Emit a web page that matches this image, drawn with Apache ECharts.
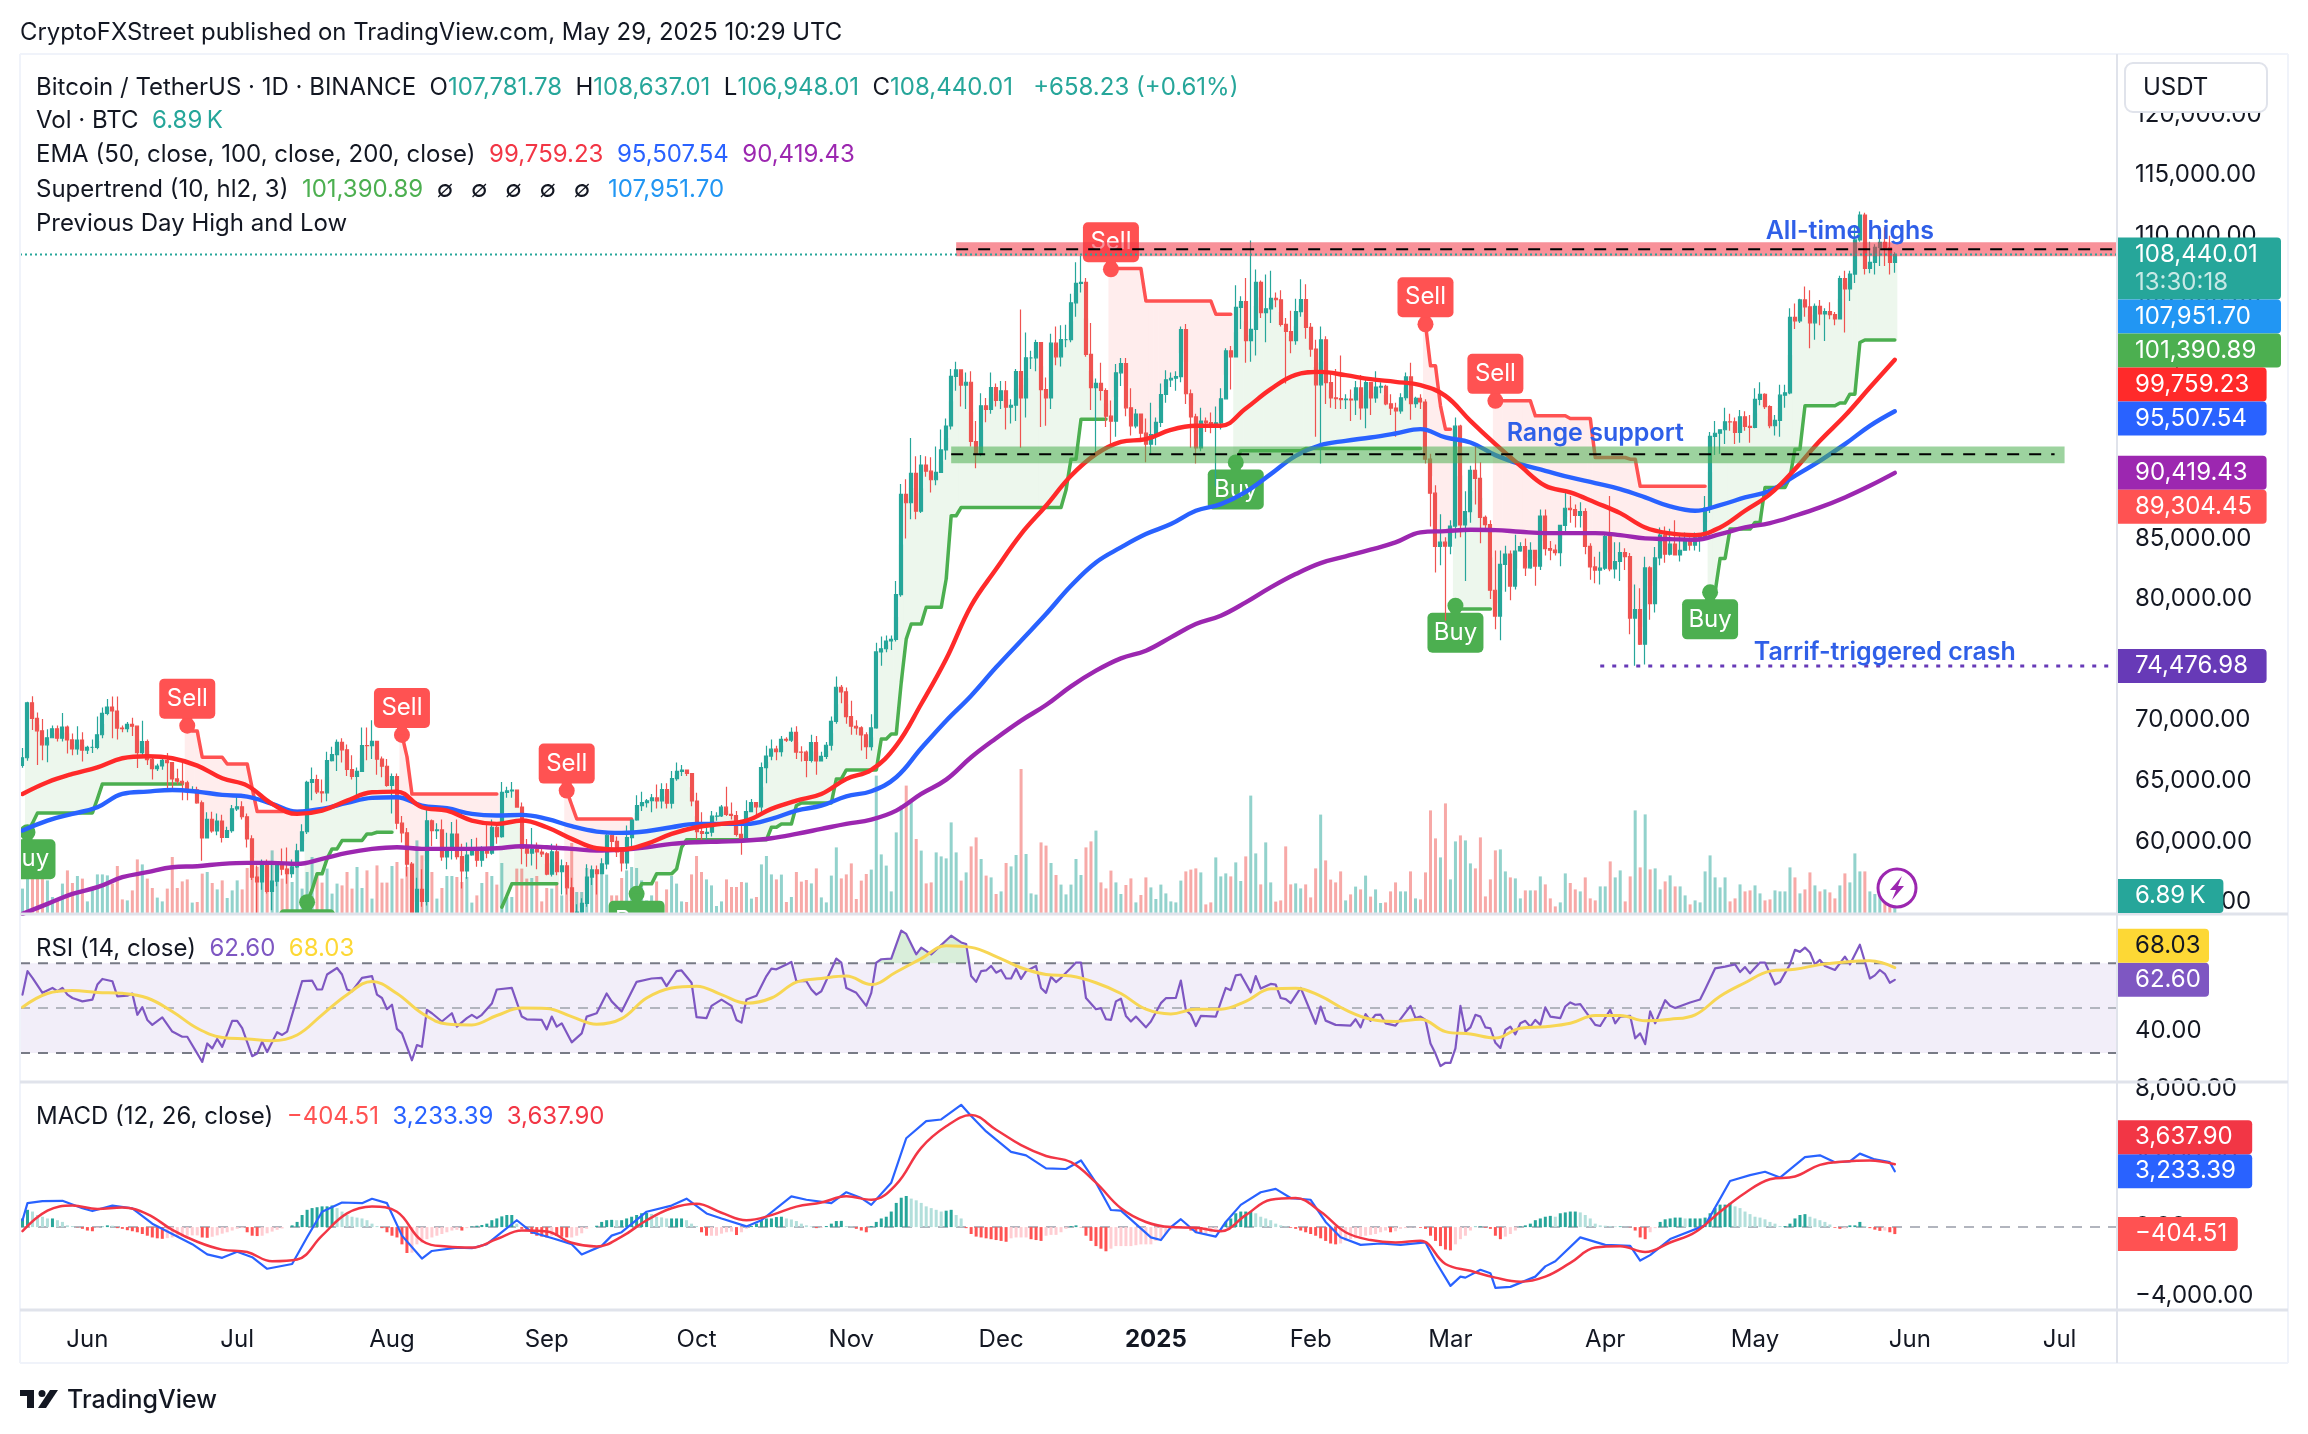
<!DOCTYPE html>
<html>
<head>
<meta charset="utf-8">
<title>BTCUSDT</title>
<script src="https://cdn.jsdelivr.net/npm/echarts@6/dist/echarts.min.js"></script>
<style>
html,body{margin:0;padding:0;background:#fff;}
#chart{width:2308px;height:1434px;}
</style>
</head>
<body>
<div id="chart"></div>
<script>
// daily candles, 19 May 2024 -> 29 May 2025
var firstDay = Date.UTC(2024, 4, 19);
var blankDays = 44; // empty days right of the last candle
var firstOpen = 66270;
var closes = [
66900,71440,70150,69120,67970,68550,69290,68510,69440,68370,67630,68360,67530,
67760,67760,68800,70570,71080,70760,69350,69310,69650,69510,67320,68240,66750,66010,66220,66680,66500,65150,64960,64830,64100,64250,63180,60280,61810,60860,61670,60320,60890,62680,
62850,62030,60200,57040,56640,58230,55860,56710,58050,57700,57340,57890,59210,60790,64870,65100,64090,63990,66660,67150,68170,67550,65930,65370,65780,67910,67900,68250,66780,66200,64620,
65350,61500,60700,58120,53990,56030,55030,61700,60880,60940,58710,59350,60600,58740,57560,58870,59490,58440,59490,59030,61160,60380,64040,64160,64220,62830,59420,59030,59360,59120,58970,
57300,59130,57490,57970,56160,53950,54160,54870,57050,57640,57340,58130,60500,60000,59130,58210,60310,61760,62950,63200,63350,63580,63340,64260,63150,65180,65770,65880,65600,63330,
60800,60650,60750,62080,62090,62820,62220,62130,60580,60270,62450,63200,62850,66080,67040,67610,67400,68420,68360,69000,67370,67360,66680,68160,66640,67010,67930,69910,72720,72340,70290,
69500,69370,68780,67810,69360,75640,75900,76540,76680,80370,88650,87950,90380,87250,91060,90560,89850,90460,92310,94290,98380,98920,97670,97900,93010,91970,95960,95650,97460,96410,
97190,95840,96000,98770,96600,99920,99920,101170,97290,96600,101130,100000,101420,101420,104460,106060,106140,100200,97460,97800,97220,95100,94690,98680,99430,95790,94300,95280,93700,92790,93580,
94590,96890,98100,98230,98360,102240,96950,95040,92480,94700,94570,94490,94540,96530,100500,99990,104080,104560,101330,102260,106140,103650,103960,104820,104710,102680,102090,101330,103730,104730,102430,
100640,97690,101400,97870,96610,96550,96470,96500,96440,97430,95780,97870,96610,97500,97570,96120,95770,95540,96620,98340,96130,96580,96270,91550,88740,84350,84700,84370,
86030,94270,86120,87220,90620,89970,86750,86150,80730,78600,82860,83720,81070,83970,84340,82580,84020,82720,86850,84170,84040,83830,86080,87500,87390,86900,87230,84350,82650,82390,82550,
85160,82490,83100,83840,83500,78430,79140,76270,82570,79630,83400,85290,83700,84540,83640,84030,84950,84460,85060,85170,87520,93440,93690,93980,94640,94630,93750,95050,94250,94170,
96490,96910,95890,94310,94750,96830,97030,103260,102970,104700,104120,102810,104170,103540,103740,103480,103130,106450,105600,106830,109650,111700,107290,107790,109030,109440,108990,107800,108440.01
];
var highs = [
67700,71520,71980,70630,70100,69250,69570,69560,70600,69560,68900,69500,69000,
67900,68400,70300,71050,71750,71950,71950,69560,69850,70200,69550,69950,68400,67000,66400,67000,67300,65700,66000,66500,65000,64550,64500,63370,62400,62450,62300,62200,61200,63000,
63800,63300,62300,60500,58000,58500,58500,58200,58300,59400,59500,58500,59800,61400,65000,66100,65500,65100,67400,67800,68400,68500,68000,67100,66100,69400,69400,70000,68000,67000,66800,
65600,65600,62100,61100,58300,57000,57700,62700,61800,61500,61800,60700,61600,61800,59800,59900,60200,60300,59600,61400,61800,61400,64900,64500,64900,63200,63200,60200,61100,59900,59400,
59100,59800,59800,58500,58300,57000,54800,55300,58100,58000,58000,58600,60700,60600,60400,59200,61300,61800,63800,64100,63500,63900,64700,64800,64800,65800,66500,66300,65800,65600,
64000,62400,61500,62500,62400,63000,64500,63200,62500,61300,63400,63500,63100,66500,67900,68400,67900,68700,68600,69400,69500,67850,67500,68800,68700,67400,68200,70300,73600,72900,72700,
71600,70000,69500,69000,70500,76400,76900,77000,77000,81500,89500,89900,93300,91800,91900,91800,91700,92600,94000,94900,99000,99600,98800,98700,98800,94700,97000,96600,98700,97800,
98000,98000,96500,99000,103900,102000,100500,101400,101200,98300,101900,102500,102600,102650,105200,107800,108350,106500,102800,98200,99500,97400,96400,99400,99900,99900,97400,95700,95200,94900,96200,
95000,97800,98900,98700,98800,102500,102700,97300,95300,95800,95000,95400,95900,97400,100700,100900,105900,105000,106500,109600,107200,106300,106800,107100,105300,105500,103200,103800,104800,106400,106000,
102800,101400,102500,101700,98800,99000,100100,96900,97300,98000,98500,98100,97200,98800,97900,97700,96900,96200,97000,98700,99500,96700,96900,96500,92000,89400,87000,85100,
86500,95000,94400,88900,91000,92800,91300,86900,86500,84000,84000,84400,84000,85300,84700,85000,84700,84000,87400,87400,84800,84500,86100,88800,88500,87800,88000,87500,84600,83500,83900,
85500,88500,84700,84700,84200,83800,81200,80900,83500,82700,84300,85900,86000,85800,86500,85400,85500,85100,85500,85300,88500,93800,94700,94000,95800,95300,95000,95600,95500,95200,
97400,97900,97000,96000,95200,97700,97700,104000,104400,104800,105800,105500,104400,104700,104000,104500,103700,106700,107100,107100,110800,112000,111900,109500,109300,110400,110700,110000,108637.01
];
var lows = [
66080,66660,69200,66300,66700,66520,68500,68240,68240,67250,67100,67150,66600,
67200,67300,67600,68500,70400,68500,68400,69000,69000,68700,66050,66900,66300,65100,65800,65900,64100,64100,64700,63400,63400,64000,63100,58400,60600,60700,60500,59900,60300,60700,
62500,61800,59500,56800,53500,56000,55700,54300,56300,57200,56500,57000,57800,59200,60600,63400,63900,63200,63300,66600,65800,66500,65400,65100,63500,65800,66700,66800,65500,65300,64500,
62300,61000,59900,57100,49000,54000,54600,54700,59600,60200,58400,57700,58500,58500,56100,56900,58800,57900,57900,58600,58900,59800,60300,63600,63600,62800,58100,57900,58000,57700,58700,
57200,57100,57200,55600,55600,52600,53700,53600,54600,56400,55600,57600,57700,59500,58700,57500,57700,59200,61700,62500,62800,62400,62700,62700,62700,62700,65000,65400,65400,62900,
60200,60000,59900,60400,61700,62000,62100,61800,60400,58900,60200,62400,62000,62400,64800,66700,66700,67000,68200,68200,66800,66600,65300,66500,65500,66700,66800,67500,69700,71400,69700,
68800,68800,67500,66800,67500,69300,74500,75600,75800,76500,80200,85000,86600,86600,87100,90100,88800,89400,90900,91500,94000,97200,95900,95700,92600,90800,91800,94600,95300,95900,
95700,94000,94500,94700,92500,95000,99000,98800,94200,94300,95700,99300,99200,100800,101200,103300,105300,100000,95600,92100,96400,94200,92500,93400,97600,95100,93500,94100,93000,91300,91900,
92700,94200,96200,97500,97200,97900,96100,92500,91200,92200,93800,93700,89300,94000,96500,97300,100000,102300,99500,99600,100100,103200,101200,102800,104100,102500,97800,100300,101000,103300,101500,
100000,93400,91200,96100,95800,95700,95700,95700,94700,95200,94800,94100,95200,96200,97000,96000,95200,93400,95300,96400,94800,95800,95700,91200,86000,82200,82800,78200,
83700,85000,85100,81500,86300,87800,84600,85600,80000,77500,76600,80600,79900,80800,83900,81900,82500,81100,82400,83600,83200,83600,82700,85300,86300,85900,85900,83700,81600,81300,81200,
82400,82300,81700,81500,82400,77100,74500,76200,74600,78300,78900,82800,83000,83600,83600,83100,84000,84000,84000,83900,85100,87100,91900,92000,92800,93900,92800,92900,93900,92900,
94100,96000,95700,94100,93500,93400,95800,96900,102300,102800,103300,100700,101400,102600,101300,103100,102600,103100,102000,104600,106100,109500,106800,106900,106800,107500,107500,106800,106948.01
];
// volume in thousands of BTC
var volumes = [
12.7,21,32.7,21,22.7,16.8,8.5,7.7,15.2,21.8,15.5,19,17.7,6.3,13.5,19.8,19.8,19.3,15.2,24,
7.3,6.8,11.8,27.3,24.8,17.7,13,8.2,6.3,12.7,28.5,13,16.3,17.3,5.7,6,20.2,21,15.5,12.3,
16.8,8,11.8,16.8,12.3,23,30.2,23.5,25.2,24.3,31.8,23.5,17.7,22.7,16,28.5,12.7,21,28.5,20.2,
15.7,22.7,10.2,15.2,14.3,21,12.7,23.5,13,21.8,7.7,24.3,15.7,15.7,24,26,17.7,23.5,19,36.8,
29.3,17.7,21,7.7,13,19,19,18.5,16,18.5,5.7,9.3,15.5,21,19,14.7,25.5,8.5,8.5,22.7,
22.7,17.7,18,19,6.3,13,12.7,16,9.3,12.7,35.5,11,11,23,21.8,21,22.7,19.7,9.3,9.3,
18,21.8,23.5,23,16.8,6.8,9.3,16.3,6.3,12.3,19,15.2,6.3,6,19.8,29,21,17.3,14.3,4,
6.3,17.3,13.5,13.5,16,15.7,7.7,8.5,24.8,29,19.8,17.3,19.7,6,8.5,21,
16.2,17,15.3,22.8,8.3,5.8,19.2,33.3,17.8,19.8,25.3,7.5,16.7,20,22.2,69.2,29.8,24.2,11.3,40.8,
54.2,64.2,57.2,37.5,31.7,15.3,15.8,30.8,28.8,27.8,45.8,30.8,16.7,20.8,33.8,38.3,27.5,19.2,18.3,10,
11.3,25.5,23.8,29.5,72.5,30,10.3,9.7,35.8,34.2,25.5,19.5,14.7,9.8,14.7,27.5,19.5,33.3,36.3,41.7,
15.8,12.8,21.7,15.8,10,14.5,17.8,5.8,9.5,18.3,13.3,7.5,14.7,10.3,6.3,5.8,16.7,21.3,22.2,22.8,
20.8,4.8,5.8,28.3,18.8,20.3,18.8,25.8,16.5,28.8,59.2,30.3,14.8,35.8,15.8,6.2,6.8,33.8,14.8,15.3,
12.8,14.8,8.3,22.8,49.7,26.8,17.2,15.8,21.3,6.8,9.8,13.7,12.3,19.2,8.7,12.3,5.5,5.8,11.3,15.8,
11.3,11.3,21.3,7.8,7.3,20.8,51.8,37.8,28.3,55.3,17.3,36.3,39.3,36.8,25.3,22.8,38.3,8.8,17.3,31.8,
32.3,21.3,18.3,17.8,7.8,11.8,11.8,11.8,18.8,14.8,
7.8,3.8,5.8,20.3,15.5,12.3,11.3,18.3,7.8,6.8,13.8,13.8,26.3,18.3,21.8,6.3,18.8,51.8,23.3,49.8,
22.3,22.8,12.3,16.3,19.3,13.8,13.8,9.3,4.8,6.8,5.8,21.3,29.3,18.3,13.3,18.3,6.3,7.8,14.8,11.3,
11.8,14.3,10.3,6.8,7.3,11.8,11.3,11.3,23.3,18.3,10.3,12.3,20.8,14.3,11.3,12.3,10.8,7.8,14.3,20.3,
15.8,30.3,21.3,21.3,11.3,10,9.5,11,8,6.89
];
// moving averages, read every 5th day
var ema50 = [63913,64876,65563,66113,66856,67021,66856,66251,65206,64601,63088,62263,62538,63363,64051,64106,62813,62538,61713,61438,61713,61163,60201,59431,59321,59788,60613,61163,61438,61713,62676,63363,
63912,65150,65893,67900,71337,75050,79453,82478,85365,87703,90178,91965,92983,93203,93973,94303,94303,95733,97328,98511,98758,98483,98153,97933,97658,96778,94715,92790,91003,
89353,88803,87978,87098,85915,85420,85283,85915,87290,88665,90728,93065,95128,97465,99759.23];
var ema100 = [60888,61713,62263,62813,63913,64106,64243,64106,63831,63693,63088,62456,62676,63171,63583,63638,62951,62731,62263,62126,62181,61851,61246,60806,60696,60833,61163,61438,61438,61438,61851,62538,
62950,63720,64133,65288,67680,69960,72028,74365,76565,78765,81103,83028,84265,85365,86190,87290,87840,88858,90315,91828,92708,93065,93340,93670,94028,93340,92928,91883,91140,
90590,90040,89573,89078,88390,87648,87290,87758,88390,88940,90178,91415,92790,94303,95507.54];
var ema200 = [54013,54838,55663,56213,57038,57451,57863,57946,58138,58221,58221,58138,58551,59046,59376,59513,59376,59376,59376,59431,59596,59513,59376,59238,59321,59513,59788,59926,59981,60063,60256,60613,
61025,61438,61795,62538,63913,65095,66938,68505,69963,71255,72795,74088,75105,75740,76840,77940,78628,79728,80965,82065,82973,83523,84073,84678,85503,85613,85723,85695,85558,
85448,85448,85448,85283,85008,84953,84898,85365,85915,86273,86878,87565,88390,89353,90419.43];
// supertrend stairs: [day, level], null ends a run
var stUpSteps = [[1,60751],[2,61500],[3,62346],[15,63500],[16,64739],[33,null],
[57,54976],[58,56000],[59,57314],[61,58551],[62,59376],[64,60063],[69,60613],[71,60751],[75,null],
[96,54563],[97,55500],[98,56488],[108,null],
[123,55663],[124,56488],[127,57313],[131,57713],[132,59500],[133,60126],[150,61163],[152,61437],[155,62951],[156,63170],[163,65150],[165,65893],[172,68450],[174,68862],[176,73125],[177,76703],[178,77940],[181,79315],[185,81653],[186,86878],[188,87565],[209,89000],[210,91553],[212,94853],[218,null],
[243,91278],[244,92240],[257,92433],[281,null],
[287,79453],[288,79178],[295,null],
[338,80553],[340,83358],[342,85778],[347,86328],[349,89216],[354,90040],[355,92378],[357,95953],[364,96180],[366,96915],[368,101178],[369,101390.89]];
var stDownSteps = [[33,69551],[34,69100],[36,66938],[41,66388],[46,64400],[47,62456],[57,null],
[76,68781],[77,67000],[78,63913],[96,null],
[109,64188],[110,63000],[111,61851],[123,null],
[218,107300],[225,104615],[239,103516],[243,null],
[281,102690],[282,99253],[284,95953],[285,94028],[287,null],
[295,96365],[303,95128],[310,94908],[315,91690],[322,91553],[324,89304.45],[338,null]];
// supertrend flags
var signalDays = [1,33,57,76,109,123,218,243,281,287,295,338];
var signalPrices = [60751,69551,54976,68781,64188,55663,107228,91278,102690,79453,96365,80553];
var signalTexts = ['Buy','Sell','Buy','Sell','Sell','Buy','Sell','Buy','Sell','Buy','Sell','Buy'];
// rsi: [day, value]
var rsiPoints = [[0,56],[1,66.5],[2,63.5],[4,56.8],[6,59],[7,57.5],[8,59],[9,56],[10,54.5],[12,53],[14,53.8],[15,60.5],[16,63],[18,62],[19,55.2],[21,55.5],[22,56.5],[23,47],[24,50.4],[25,44.7],[26,42.5],[28,45.8],[30,39.5],[32,37.2],[33,37.2],[36,26],[37,34.2],[38,32],[39,36.2],[40,32.7],[42,44.3],[43,44.3],[44,41],[46,28.5],[47,29.7],[48,35],[49,30.4],[51,39.2],[52,38],[53,39.5],[56,62],[58,62.3],[59,58.3],[60,58.3],[61,65],[63,67.9],[64,65],[65,58.3],[66,57.5],[68,63.5],[70,64.3],[71,56],[72,54.5],[73,49.5],[74,51.5],[75,40.7],[76,38.7],[78,26.7],[79,33.5],[80,32.7],[81,49.2],[82,47.7],[84,44],[86,47.7],[87,41.7],[89,45.5],[90,47],[91,45.5],[92,47],[94,52],[95,58.3],[98,59],[100,46.2],[101,45],[104,44.7],[105,40.5],[106,46.2],[107,41.7],[108,43.2],[110,34.7],[112,38.7],[113,46.2],[115,47.7],[117,56.5],[118,53],[120,48.5],[123,61.7],[126,63.2],[128,63.5],[129,59.8],[131,66.5],[132,66.8],[134,61.3],[135,46],[137,45.5],[138,51],[140,53.8],[142,51],[143,44.7],[144,43.5],[145,53.8],[147,55.5],[149,64.3],[150,67.6],[151,67.3],[153,69.5],[154,70.6],[155,62],[157,62],[158,58.3],[159,56],[160,57.5],[163,72.1],[164,70.3],[165,59],[167,56.8],[169,51],[170,56.8],[171,70.3],[172,71.8],[174,72.1],[176,84.6],[177,83.1],[179,74],[180,77],[182,74],[186,82.3],[188,79.3],[189,78.6],
[190,64.3],[191,61.7],[192,66.5],[193,66.8],[194,68.8],[195,65.8],[196,67],[197,63.2],[198,63.2],[199,67.6],[200,63],[201,66.5],[203,68.8],[204,59],[205,56.8],[206,64],[207,61.6],[208,63.5],[210,68],[211,70.3],[212,70.3],[213,54.5],[215,49.5],[216,50],[217,45],[218,44.7],[219,53],[220,54.2],[221,46.5],[222,44],[223,46.2],[225,41.4],[226,44],[228,52.2],[229,54.4],[231,54.5],[232,62.3],[233,49.2],[234,47],[235,42],[236,46.5],[239,46.2],[241,59],[242,58],[243,64.6],[244,65],[246,57],[247,64.3],[248,58.7],[250,60.8],[251,60.5],[252,54.5],[253,54],[254,52.2],[256,59],[259,43],[260,50.7],[261,44.4],[263,42.5],[266,42.2],[267,45],[268,41.4],[269,47.3],[270,44.3],[271,47],[272,47.1],[273,43.2],[275,42.2],[278,51],[279,45.5],[280,46.2],[281,44.7],[282,34.2],[283,29.7],[284,24.1],[285,25.6],[286,25.5],[287,32],[288,51],[289,39.5],[290,41.4],[291,47],[292,46.2],[293,41.4],[294,41],[295,34.5],[296,32.2],[297,40.2],[298,41.7],[299,38.3],[300,43.2],[301,44.3],[302,41.7],[303,44.7],[304,42.5],[305,50.3],[306,46.2],[308,45.5],[309,50.7],[310,52.5],[311,51.5],[312,51.8],[315,42.5],[316,42],[318,49.2],[319,43.2],[320,46.2],[322,46.5],[323,36.5],[324,38.7],[325,33.9],[326,48.5],[327,43.2],[329,53.5],[330,51],[331,50],[334,52.5],[336,53.8],[337,58.3],[339,67.7],[341,68.5],[343,69.5],[344,66.1],[345,68.3],[346,65.5],[348,70.3],[349,70.3],[351,60.5],[352,61.6],[354,69.5],[355,76],[356,75.1],[357,77],[358,74.8],[359,69.5],[360,71.5],[361,68.8],[363,67],[365,73],[366,69.5],[368,78.3],[370,63.2],[371,64.6],[372,67],[373,65.3],[374,61.3],[375,62.6]];
var rsiHotPoints = [[171,70],[172,71.8],[174,72.1],[176,84.6],[177,83.1],[179,74],[180,77],[182,74],[186,82.3],[188,79.3],[189,78.6],[190,70]];
var rsiMa = [50.4,56.5,57.8,57,56.6,54.5,48.5,41,36.9,36.2,35.4,38,47,56,61.9,56.5,47.7,42.9,42.5,46.7,50,49.8,46.2,42.8,45.3,54.5,59,59.8,56,52.2,54.5,61.6,63.2,64.3,60.5,66.1,72.1,77.8,77.1,
73,68,65,64.3,61.3,56.5,49.5,47.4,49.5,49.5,53,58.6,58.9,55.3,49.2,45,44,45,39.5,38.4,36.6,41,41.7,43.2,46.7,46.7,44.3,45,47,55.3,61.3,66.5,67.3,69.4,70.6,71.1,68.03];
// macd: [day, value]
var macdPoints = [[0,396],[1,1385],[4,1503],[8,1523],[12,1088],[14,930],[18,1246],[22,1088],[26,198],[30,-396],[34,-989],[37,-1582],[40,-1780],[43,-1424],[46,-1741],[49,-2413],[54,-2136],[57,-593],[60,890],[64,1424],[68,1385],[70,1642],[73,1385],[76,-494],[80,-1820],[82,-1384],[87,-1187],[90,-1226],[93,-989],[96,-297],[99,396],[102,-297],[106,-633],[110,-989],[112,-1582],[116,-1088],[118,-494],[120,-297],[125,890],[130,1246],[133,1642],[137,791],[140,495],[145,40],[148,396],[154,1780],[157,1582],[162,1385],[165,2018],[168,1681],[170,1286],[174,2571],[177,5143],[181,6131],[184,6230],[188,7081],[190,6428],[193,5538],[198,4351],[201,4153],[205,3402],[209,3362],[212,3857],[215,2571],[218,988],[220,950],[226,-593],[228,-751],[230,0],[232,455],[235,-297],[239,-554],[241,297],[244,1286],[248,2018],[251,2215],[254,1681],[258,1582],[261,297],[264,-593],[268,-1028],[272,-949],[276,-1028],[281,-890],[283,-1978],[286,-3402],[288,-2868],[289,-2927],[292,-2472],[294,-2670],[295,-3520],[298,-3461],[303,-2868],[305,-2274],[307,-1978],[312,-593],[317,-1028],[322,-1088],[324,-1938],[326,-1622],[330,-692],[337,99],[342,2670],[346,3006],[349,3204],[352,2868],[357,4055],[360,4153],[363,3758],[366,3798],[368,4252],[371,3916],[374,3758],[375,3233.39]];
// signal line, read every 5th day
var macdSignal = [-237,949,1246,1048,1127,752,-158,-850,-1306,-1444,-1978,-1879,-494,791,1187,890,-791,-1127,-1187,-692,-198,-257,-910,-1127,-554,396,1088,1345,831,396,692,1187,1424,1780,1582,2472,4589,5835,6488,5637,4747,4114,3758,2571,1088,297,
0,-40,-237,692,1582,1681,890,-297,-752,-890,-791,-2136,-2531,-2927,-3164,-2868,-2076,-1187,-1108,-1444,-890,-297,890,1978,2769,2927,3600,3798,3857,3637.9];
var macdHist = [
500,1000,900,700,600,500,500,400,300,100,60,-20,-100,-200,-240,-40,30,100,80,-60,
-100,-180,-240,-300,-400,-500,-600,-650,-680,-640,-600,-560,-540,-500,-480,-480,-600,-620,-560,-480,
-380,-300,-200,-100,-60,-300,-500,-520,-500,-360,-260,-160,-80,0,100,300,700,1000,1100,1150,
1200,1200,1250,1100,900,700,600,550,500,400,200,60,-60,-300,-500,-600,-1000,-1500,-1480,-1000,
-900,-700,-600,-500,-400,-300,-200,-160,-200,-60,40,80,120,200,400,500,620,700,700,200,
-100,-200,-400,-500,-550,-600,-500,-520,-560,-600,-600,-500,-360,-100,-10,80,300,400,420,400,
400,500,600,700,800,820,760,600,560,500,500,500,500,400,200,60,-300,-500,-500,-500,
-380,-300,-260,-460,-300,-100,60,200,400,500,500,580,600,500,440,350,200,100,40,-60,
-40,60,200,350,360,60,40,-100,-200,-300,60,300,500,600,900,1400,1700,1800,1650,1550,
1400,1200,1100,1000,900,950,1000,700,500,-60,-400,-550,-600,-650,-700,-750,-800,-850,-650,-600,
-600,-600,-700,-750,-800,-500,-450,-450,-300,-100,60,100,-20,-500,-800,-1100,-1250,-1400,-1250,-1100,
-1100,-1100,-1100,-1050,-1000,-1000,-1000,-800,-650,-400,-150,-100,-40,-60,-200,-300,-400,-400,-300,-100,
0,300,500,800,900,900,900,800,600,500,400,200,100,40,-40,-100,-200,-300,-400,-500,
-650,-800,-950,-1000,-950,-800,-700,-650,-550,-500,-450,-400,-300,-200,-300,-240,-100,-60,-20,-20,
-40,-100,-500,-800,-1100,-1300,-1350,-1000,-700,-500,-200,30,40,-40,-100,-500,-700,-550,-400,-200,
40,100,200,400,500,600,650,600,800,850,900,900,850,700,500,200,100,80,60,40,
40,20,-20,-200,-600,-700,-300,-60,300,450,500,550,550,500,500,500,500,550,800,1100,
1300,1300,1400,1200,1100,900,750,600,550,450,300,200,60,60,200,500,700,750,600,500,
400,300,150,-40,-100,-80,100,100,300,60,-60,-150,-220,-200,-300,-404.51
];
// tags on the right scale
var priceTagValues = [108440.01,107951.70,101390.89,99759.23,95507.54,90419.43,89304.45,74476.98];
var priceTagColors = ['#26a69a','#2196f3','#4caf50','#ff2a2a','#2962ff','#9c27b0','#ff5252','#673ab7'];
var rsiTagValues = [62.60,68.03];
var rsiTagColors = ['#7e57c2','#fdd835'];
var macdTagValues = [-404.51,3233.39,3637.90];
var macdTagColors = ['#ff5252','#2962ff','#f23645'];
// drawn levels and notes
var notePrices = [110350,93700,75550];
var noteDays = [366,315,373];
var noteTexts = ['All-time highs','Range support','Tarrif-triggered crash'];

var FONT = 'Inter';
var TEXT = '#131722';
var UP = '#26a69a', DOWN = '#ef5350';
var gridLeft = 20, gridWidth = 2097;
var priceMin = 54000, priceMax = 125000;
var barCount = closes.length + blankDays;

var categories = [];
for (var i = 0; i < barCount; i++) {
	categories.push(new Date(firstDay + i * 86400000).toISOString().slice(0, 10));
}
var monthNames = {'01':'Jan','02':'Feb','03':'Mar','04':'Apr','05':'May','06':'Jun','07':'Jul','08':'Aug','09':'Sep','10':'Oct','11':'Nov','12':'Dec'};

var opens = closes.map(function (c, i) { return i == 0 ? firstOpen : closes[i - 1]; });
// wicks below the pane get cut at its floor
var candleData = closes.map(function (c, i) {
	return [Math.max(opens[i], priceMin), Math.max(c, priceMin), Math.max(lows[i], priceMin), highs[i]];
});
var volumeData = volumes.map(function (v, i) {
	return {value: v, itemStyle: {color: closes[i] >= opens[i] ? 'rgba(38,166,154,.5)' : 'rgba(239,83,80,.5)'}};
});
var histData = macdHist.map(function (v, i) {
	var rising = i == 0 || v >= macdHist[i - 1];
	var color = v >= 0 ? (rising ? '#26a69a' : '#b2dfdb') : (rising ? '#ffcdd2' : '#ff5252');
	return {value: v, itemStyle: {color: color}};
});

// fifth-day samples onto the daily axis
function everyFifth(values) {
	var out = new Array(closes.length).fill(null);
	values.forEach(function (v, k) { out[k * 5] = v; });
	return out;
}
function fromPoints(points) {
	var out = new Array(closes.length).fill(null);
	points.forEach(function (p) { out[p[0]] = p[1]; });
	return out;
}
// stairs hold their level until the next step
function fromSteps(steps) {
	var out = new Array(closes.length).fill(null);
	steps.forEach(function (s, k) {
		var end = k + 1 < steps.length ? steps[k + 1][0] : closes.length;
		for (var d = s[0]; d < end; d++) out[d] = s[1];
	});
	return out;
}
var stUp = fromSteps(stUpSteps);
var stDown = fromSteps(stDownSteps);

function lineOf(name, data, color, width, xi, yi, z, gaps, smooth) {
	return {name: name, type: 'line', xAxisIndex: xi, yAxisIndex: yi, data: data, z: z, silent: true,
		showSymbol: false, symbol: 'none', connectNulls: !gaps, smooth: smooth || false,
		lineStyle: {color: color, width: width, cap: 'round', join: 'round'}};
}
function customOn(xi, yi, count, z, clip, renderItem) {
	var data = [];
	for (var k = 0; k < count; k++) data.push([k, 0]);
	return {type: 'custom', xAxisIndex: xi, yAxisIndex: yi, z: z, clip: clip, silent: true,
		data: data, encode: {x: 0, y: 1}, renderItem: renderItem};
}
// shaded area between price and supertrend
function fillSeries(st, color) {
	return customOn(0, 0, closes.length, 1, true, function (params, api) {
		var d = params.dataIndex;
		if (st[d] === null) return null;
		var a = api.coord([d, st[d]]);
		var b = api.coord([d, (opens[d] + closes[d]) / 2]);
		var w = api.size([1, 0])[0];
		return {type: 'rect', shape: {x: a[0] - w / 2, y: Math.min(a[1], b[1]), width: w, height: Math.abs(a[1] - b[1])},
			style: {fill: color}};
	});
}
// price bands and dashed levels; a null end day runs to the scale
function bandSeries(xi, yi, startDays, endDays, lowVals, highVals, colors, z) {
	return customOn(xi, yi, startDays.length, z, true, function (params, api) {
		var k = params.dataIndex, cs = params.coordSys;
		var x0 = startDays[k] === null ? cs.x : api.coord([startDays[k], 0])[0];
		var x1 = endDays[k] === null ? cs.x + cs.width : api.coord([endDays[k], 0])[0];
		var y0 = api.coord([0, highVals[k]])[1], y1 = api.coord([0, lowVals[k]])[1];
		return {type: 'rect', shape: {x: x0, y: y0, width: x1 - x0, height: y1 - y0}, style: {fill: colors[k]}};
	});
}
function levelSeries(xi, yi, startDays, endDays, values, colors, dashes, widths, z) {
	return customOn(xi, yi, values.length, z, true, function (params, api) {
		var k = params.dataIndex, cs = params.coordSys;
		var x0 = startDays[k] === null ? cs.x : api.coord([startDays[k], 0])[0];
		var x1 = endDays[k] === null ? cs.x + cs.width : api.coord([endDays[k], 0])[0];
		var y = api.coord([0, values[k]])[1];
		return {type: 'line', shape: {x1: x0, y1: y, x2: x1, y2: y},
			style: {stroke: colors[k], lineWidth: widths[k], lineDash: dashes[k], fill: null}};
	});
}
function fmt(v) {
	return v.toLocaleString('en-US', {minimumFractionDigits: 2, maximumFractionDigits: 2}).replace('-', '\u2212');
}
// tags stack so they never overlap; up=true pushes them upward
function tagSeries(xi, yi, values, colors, up, texts, subs, inks) {
	var edge = null;
	return customOn(xi, yi, values.length, 20, false, function (params, api) {
		var k = params.dataIndex, cs = params.coordSys;
		if (k == 0) edge = null;
		var sub = subs && subs[k];
		var h = sub ? 62 : 34;
		var y = api.coord([0, values[k]])[1];
		var top = y - 17;
		if (edge !== null) {
			if (up && top + h > edge) top = edge - h;
			if (!up && top < edge) top = edge;
		}
		if (top + h > cs.y + cs.height) top = cs.y + cs.height - h - 1;
		edge = up ? top : top + h;
		var text = texts ? texts[k] : fmt(values[k]);
		var w = 19 + text.length * 14.4;
		var x = cs.x + cs.width + 1;
		var kids = [
			{type: 'rect', shape: {x: x, y: top, width: w, height: h, r: [0, 4, 4, 0]}, style: {fill: colors[k]}},
			{type: 'text', style: {x: x + 17, y: top + 17, text: text, fill: inks ? inks[k] : '#fff', font: '24px ' + FONT, align: 'left', verticalAlign: 'middle'}}
		];
		if (sub) kids.push({type: 'text', style: {x: x + 17, y: top + 45, text: sub, fill: 'rgba(255,255,255,.75)', font: '24px ' + FONT, align: 'left', verticalAlign: 'middle'}});
		return {type: 'group', children: kids};
	});
}

var series = [
	{name: 'Vol', type: 'bar', xAxisIndex: 0, yAxisIndex: 1, data: volumeData, barWidth: 3, z: 1, silent: true},
	fillSeries(stUp, 'rgba(76,175,80,.1)'),
	fillSeries(stDown, 'rgba(255,82,82,.1)'),
	lineOf('Up trend', stUp, '#4caf50', 3.5, 0, 0, 2, true),
	lineOf('Down trend', stDown, '#ff5252', 3.5, 0, 0, 2, true),
	// buy and sell flags
	customOn(0, 0, signalDays.length, 3, true, function (params, api) {
		var k = params.dataIndex;
		var p = api.coord([signalDays[k], signalPrices[k]]);
		var sell = signalTexts[k] == 'Sell';
		var color = sell ? '#ff5252' : '#4caf50';
		var top = sell ? p[1] - 47 : p[1] + 7;
		return {type: 'group', children: [
			{type: 'circle', shape: {cx: p[0], cy: p[1], r: 8}, style: {fill: color}},
			{type: 'rect', shape: {x: p[0] - 5, y: sell ? p[1] - 10 : p[1], width: 10, height: 10}, style: {fill: color}},
			{type: 'rect', shape: {x: p[0] - 28, y: top, width: 56, height: 40, r: 5}, style: {fill: color}},
			{type: 'text', style: {x: p[0], y: top + 20, text: signalTexts[k], fill: '#fff', font: '24px ' + FONT, align: 'center', verticalAlign: 'middle'}}
		]};
	}),
	{name: 'BTCUSDT', type: 'candlestick', xAxisIndex: 0, yAxisIndex: 0, data: candleData, barWidth: 3.5, z: 4, silent: true,
		itemStyle: {color: UP, color0: DOWN, borderColor: UP, borderColor0: DOWN, borderWidth: 1.2}},
	lineOf('EMA 200', everyFifth(ema200), '#9c27b0', 4.4, 0, 0, 5, false, 0.4),
	lineOf('EMA 100', everyFifth(ema100), '#2962ff', 4.4, 0, 0, 5, false, 0.4),
	lineOf('EMA 50', everyFifth(ema50), '#ff2a2a', 4.4, 0, 0, 5, false, 0.4),
	bandSeries(0, 0, [187, 186], [null, 409], [108300, 91223], [109455, 92598], ['rgba(242,54,69,.55)', 'rgba(76,175,80,.55)'], 6),
	levelSeries(0, 0, [null, 316], [null, null], [108440.01, 74476.98], ['#26a69a', '#673ab7'], [[2, 3], [4, 8]], [2, 3], 6),
	levelSeries(0, 0, [187, 186], [null, 407], [108876, 91965], ['#000', '#000'], [[12, 10], [12, 10]], [2, 2], 7),
	// text notes
	customOn(0, 0, noteTexts.length, 8, true, function (params, api) {
		var k = params.dataIndex;
		var p = api.coord([noteDays[k], notePrices[k]]);
		return {type: 'text', style: {x: p[0], y: p[1], text: noteTexts[k], fill: '#2f5fe8', font: '600 25px ' + FONT, align: 'center', verticalAlign: 'middle'}};
	}),
	tagSeries(0, 0, priceTagValues, priceTagColors, false, null, ['13:30:18']),
	tagSeries(0, 1, [6.89], ['#26a69a'], false, ['6.89\u2009K'], null),

	// rsi pane
	bandSeries(1, 2, [null], [null], [30], [70], ['rgba(126,87,194,.1)'], 1),
	levelSeries(1, 2, [null, null, null], [null, null, null], [70, 50, 30], ['#787b86', '#b2b5be', '#787b86'], [[10, 8], [10, 8], [10, 8]], [2, 2, 2], 2),
	{name: 'RSI hot', type: 'line', xAxisIndex: 1, yAxisIndex: 2, data: fromPoints(rsiHotPoints), connectNulls: true, symbol: 'none', silent: true, z: 3,
		lineStyle: {width: 0}, areaStyle: {origin: 70, color: 'rgba(76,175,80,.3)'}},
	lineOf('RSI', fromPoints(rsiPoints), '#7e57c2', 2.2, 1, 2, 4),
	lineOf('RSI MA', everyFifth(rsiMa), '#f7d654', 3, 1, 2, 5, false, 0.4),
	tagSeries(1, 2, rsiTagValues, rsiTagColors, true, null, null, ['#fff', TEXT]),

	// macd pane
	levelSeries(2, 3, [null], [null], [0], ['#b2b5be'], [[10, 8]], [2], 1),
	{name: 'Histogram', type: 'bar', xAxisIndex: 2, yAxisIndex: 3, data: histData, barWidth: 3, z: 2, silent: true},
	lineOf('MACD', fromPoints(macdPoints), '#2962ff', 2.2, 2, 3, 3),
	lineOf('Signal', everyFifth(macdSignal), '#f23645', 2.5, 2, 3, 4, false, 0.4),
	tagSeries(2, 3, macdTagValues, macdTagColors, true, null, null)
];

function hiddenAxis(grid) {
	return {type: 'category', gridIndex: grid, data: categories, boundaryGap: true,
		axisLine: {show: false}, axisTick: {show: false}, axisLabel: {show: false}, splitLine: {show: false}};
}
function scaleAxis(grid, min, max, step, shown) {
	return {type: 'value', gridIndex: grid, position: 'right', min: min, max: max, interval: step, scale: false,
		axisLine: {show: false}, axisTick: {show: false}, splitLine: {show: false},
		axisLabel: {color: TEXT, fontSize: 24, fontFamily: FONT, margin: 18, padding: [3, 0, 0, 0],
			formatter: function (v) { return shown(v) ? fmt(v) : ''; }}};
}
var timeAxis = hiddenAxis(2);
timeAxis.axisLabel = {show: true, color: TEXT, fontSize: 24, fontFamily: FONT, margin: 18,
	interval: function (idx, val) { return val.slice(8) == '01'; },
	formatter: function (val) {
		if (val.slice(5, 7) == '01') return '{y|' + val.slice(0, 4) + '}';
		return monthNames[val.slice(5, 7)];
	},
	rich: {y: {fontWeight: 700, fontSize: 24, fontFamily: FONT, color: TEXT}}};

var volAxis = {type: 'value', gridIndex: 0, show: false, min: 0, max: 430, splitLine: {show: false}};

// header rows
function row(x, y, parts) {
	var rich = {}, text = '';
	parts.forEach(function (p, k) {
		rich['p' + k] = {fill: p[1] || TEXT, fontSize: 24, fontFamily: FONT};
		text += '{p' + k + '|' + p[0] + '}';
	});
	return {type: 'text', z: 60, style: {x: x, y: y, text: text, rich: rich, fontSize: 24, fontFamily: FONT, verticalAlign: 'middle'}};
}
function frameLine(x1, y1, x2, y2, color, width) {
	return {type: 'line', z: 10, shape: {x1: x1, y1: y1, x2: x2, y2: y2}, style: {stroke: color, lineWidth: width}};
}
var teal = UP;
var graphics = [
	{type: 'text', z: 60, style: {x: 20, y: 33, text: 'CryptoFXStreet published on TradingView.com, May 29, 2025 10:29 UTC', fill: TEXT, fontSize: 23.9, fontFamily: FONT, verticalAlign: 'middle'}},
	frameLine(20, 54, 2288, 54, '#f0f3fa', 2),
	frameLine(20, 54, 20, 1363, '#f0f3fa', 2),
	frameLine(2288, 54, 2288, 1363, '#f0f3fa', 2),
	frameLine(20, 1363, 2288, 1363, '#f0f3fa', 2),
	frameLine(20, 914, 2288, 914, '#e0e3eb', 3),
	frameLine(20, 1082, 2288, 1082, '#e0e3eb', 3),
	frameLine(20, 1310, 2288, 1310, '#e0e3eb', 3),
	frameLine(2117, 54, 2117, 1363, '#e0e3eb', 2),
	row(36, 87.5, [['Bitcoin / TetherUS \u00b7 1D \u00b7 BINANCE  O'], ['107,781.78', teal], ['  H'], ['108,637.01', teal], ['  L'], ['106,948.01', teal], ['  C'], ['108,440.01', teal], ['   +658.23 (+0.61%)', teal]]),
	row(36, 120.5, [['Vol \u00b7 BTC  '], ['6.89\u2009K', teal]]),
	row(36, 154.5, [['EMA (50, close, 100, close, 200, close)  '], ['99,759.23', '#f23645'], ['  '], ['95,507.54', '#2962ff'], ['  '], ['90,419.43', '#9c27b0']]),
	row(36, 189.5, [['Supertrend (10, hl2, 3)  '], ['101,390.89', '#4caf50'], ['  \u2205\u2009  \u2205\u2009  \u2205\u2009  \u2205\u2009  \u2205\u2009  '], ['107,951.70', '#2196f3']]),
	row(36, 223.5, [['Previous Day High and Low']]),
	row(36, 948.5, [['RSI (14, close)  '], ['62.60', '#7e57c2'], ['  '], ['68.03', '#fdd835']]),
	row(36, 1116.5, [['MACD (12, 26, close)  '], ['\u2212404.51', '#ff5252'], ['  '], ['3,233.39', '#2962ff'], ['  '], ['3,637.90', '#f23645']]),
	// currency box
	{type: 'rect', z: 50, shape: {x: 2125, y: 63, width: 142, height: 49, r: 8}, style: {fill: '#fff', stroke: '#e0e3eb', lineWidth: 2}},
	{type: 'text', z: 51, style: {x: 2143, y: 88, text: 'USDT', fill: TEXT, fontSize: 24, fontFamily: FONT, verticalAlign: 'middle'}},
	// lightning mark
	{type: 'circle', z: 30, shape: {cx: 1897, cy: 888, r: 19}, style: {fill: '#fff', stroke: '#9c27b0', lineWidth: 3}},
	{type: 'polygon', z: 31, shape: {points: [[1902, 876], [1890, 890], [1896, 890], [1892, 900], [1904, 886], [1898, 886]]}, style: {fill: '#9c27b0'}},
	// footer logo
	{type: 'polygon', z: 30, shape: {points: [[20, 1390], [34, 1390], [34, 1408], [27, 1408], [27, 1396], [20, 1396]]}, style: {fill: TEXT}},
	{type: 'circle', z: 30, shape: {cx: 42, cy: 1393.5, r: 3.5}, style: {fill: TEXT}},
	{type: 'polygon', z: 30, shape: {points: [[50, 1390], [58, 1390], [46, 1408], [38, 1408]]}, style: {fill: TEXT}},
	{type: 'text', z: 30, style: {x: 67, y: 1400, text: 'TradingView', fill: TEXT, fontSize: 25, fontWeight: 500, fontFamily: FONT, verticalAlign: 'middle'}}
];

var chart = echarts.init(document.getElementById('chart'));
chart.setOption({
	animation: false,
	backgroundColor: '#fff',
	textStyle: {fontFamily: FONT},
	grid: [
		{left: gridLeft, width: gridWidth, top: 54, height: 860},
		{left: gridLeft, width: gridWidth, top: 914, height: 168},
		{left: gridLeft, width: gridWidth, top: 1082, height: 228}
	],
	xAxis: [hiddenAxis(0), hiddenAxis(1), timeAxis],
	yAxis: [
		scaleAxis(0, priceMin, priceMax, 1000, function (v) { return v % 5000 == 0 && v < priceMax; }),
		volAxis,
		scaleAxis(1, 17, 92, 1, function (v) { return v == 40; }),
		scaleAxis(2, -4800, 8400, 400, function (v) { return v % 4000 == 0; })
	],
	series: series,
	graphic: {elements: graphics}
});
</script>
</body>
</html>
